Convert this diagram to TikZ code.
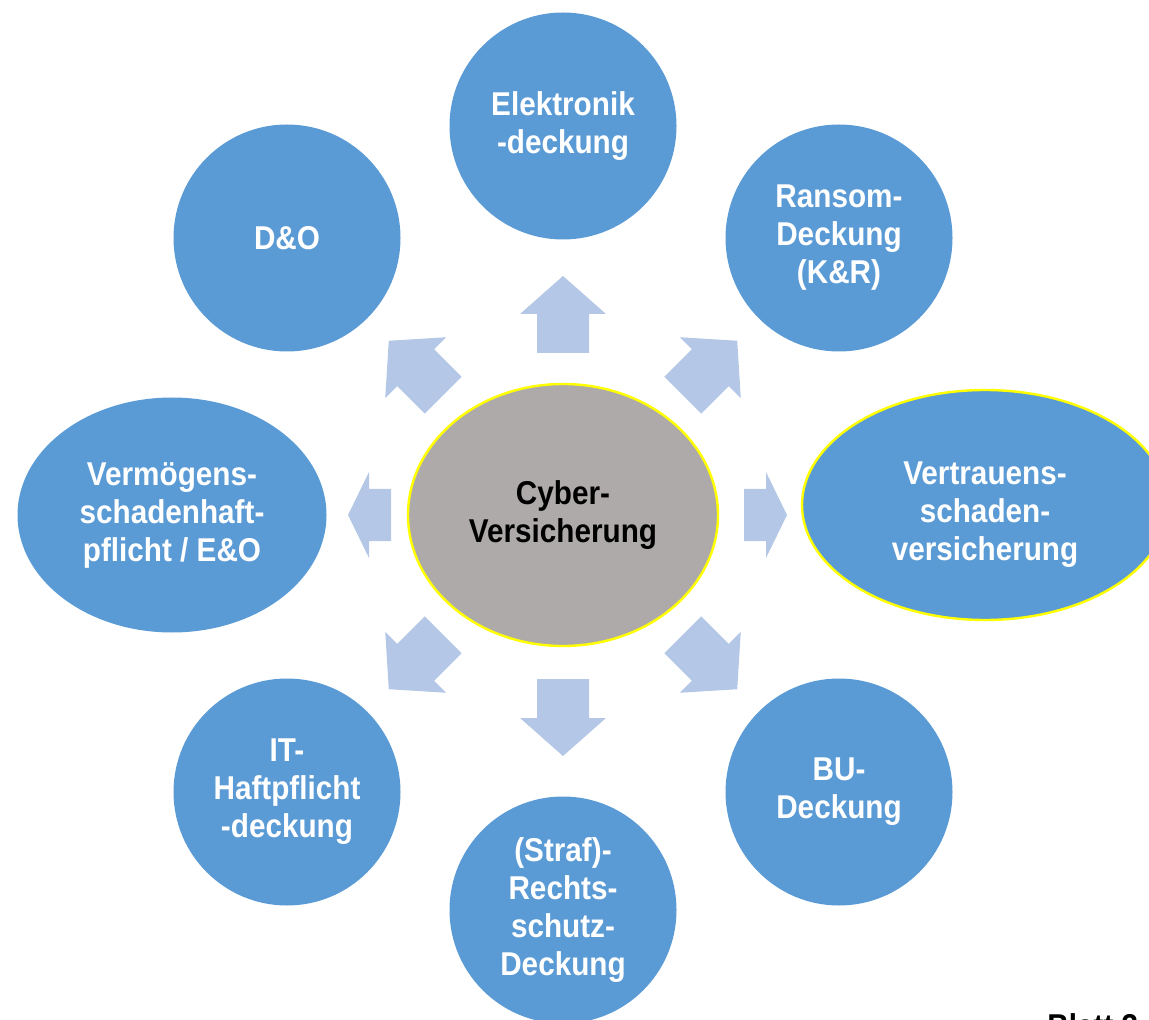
\documentclass[tikz,border=0pt]{standalone}
\usepackage{fontspec}
\setmainfont{Liberation Sans}[FakeStretch=0.9]
\usetikzlibrary{shapes.geometric}
\definecolor{bubblue}{HTML}{5B9BD5}
\definecolor{arrblue}{HTML}{B4C7E7}
\definecolor{hubgrey}{HTML}{AEAAAA}
\definecolor{ringyel}{HTML}{FFFF00}
\tikzset{
  lbl/.style={font=\bfseries\fontsize{16.5}{19}\selectfont, align=center},
  bubble/.style={lbl, circle, fill=bubblue, text=white, minimum size=113.5pt, inner sep=0pt},
  ovalnode/.style={lbl, ellipse, fill=bubblue, text=white, inner sep=0pt},
  hub/.style={lbl, ellipse, fill=hubgrey, draw=ringyel, line width=1.2pt, text=black,
    minimum width=155pt, minimum height=131pt, inner sep=0pt},
  longarr/.pic={\fill[arrblue] (-38.5,-26) -- (0.5,-26) -- (0.5,-43) -- (38.5,0)
     -- (0.5,43) -- (0.5,26) -- (-38.5,26) -- cycle;},
  shortarr/.pic={\fill[arrblue] (-21.5,-26) -- (0.5,-26) -- (0.5,-43) -- (21.5,0)
     -- (0.5,43) -- (0.5,26) -- (-21.5,26) -- cycle;}
}
\begin{document}
\begin{tikzpicture}[x=0.5pt,y=-0.5pt]
\useasboundingbox (0,0) rectangle (1149,1020);
% block arrows
\pic[rotate=90]  at (563,314.5) {longarr};
\pic[rotate=270] at (563,717.5) {longarr};
\pic[rotate=135] at (416,368) {longarr};
\pic[rotate=45]  at (710,368) {longarr};
\pic[rotate=225] at (416,662) {longarr};
\pic[rotate=315] at (710,662) {longarr};
\pic[rotate=0]   at (765.5,515) {shortarr};
\pic[rotate=180] at (369.5,515) {shortarr};
% nodes
\node[hub] (cyber) at (563,515) {Cyber-\\Versicherung};
\node[bubble] (elek) at (563,126) {Elektronik\\-deckung};
\node[bubble] (dno) at (287,238) {D\&O};
\node[bubble] (ransom) at (839,238) {Ransom-\\Deckung\\(K\&R)};
\node[bubble] (it) at (287,792) {IT-\\Haftpflicht\\-deckung};
\node[bubble] (bu) at (839,792) {BU-\\Deckung};
\node[bubble] (straf) at (563,910) {(Straf)-\\Rechts-\\schutz-\\Deckung};
\node[ovalnode, minimum width=154.5pt, minimum height=117.5pt] (verm) at (172,515)
  {Vermögens-\\schadenhaft-\\pflicht / E\&O};
\node[ovalnode, draw=ringyel, line width=1.2pt, minimum width=183pt, minimum height=115pt,
  label={[lbl, text=white, yshift=-5pt]center:Vertrauens-\\schaden-\\versicherung}] (vertr) at (985,505) {};
\node[lbl, anchor=base west, text=black, inner sep=0pt] (blatt) at (1047,1037) {Blatt 3};
\end{tikzpicture}
\end{document}
